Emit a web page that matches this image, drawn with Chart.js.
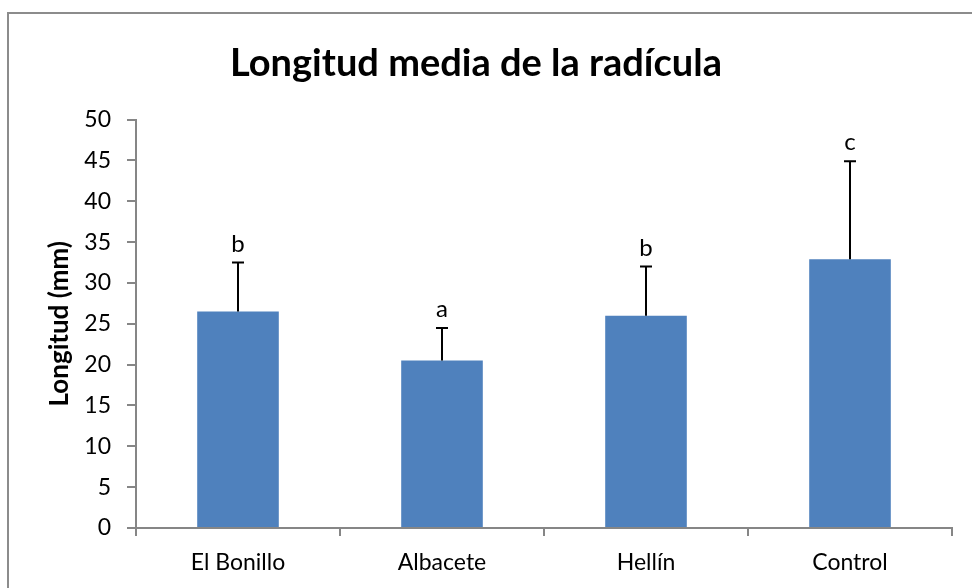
<!DOCTYPE html>
<html>
<head>
<meta charset="utf-8">
<script src="https://cdn.jsdelivr.net/npm/chart.js@4"></script>
<style>
  html, body { margin: 0; padding: 0; background: #fff; }
  #wrap { position: relative; width: 972px; height: 588px; }
</style>
</head>
<body>
<div id="wrap"><canvas id="radiculaChart"></canvas></div>
<script>
// datos
const categorias = ['El Bonillo', 'Albacete', 'Hellín', 'Control'];
const medias = [26.5, 20.5, 26.0, 32.9];
const desviaciones = [6.0, 4.0, 6.0, 12.0];
const letras = ['b', 'a', 'b', 'c'];

const FONT = 'Lato, "Open Sans", sans-serif';

// marco del gráfico
const marcoPlugin = {
    id: 'marco',
    beforeDraw(chart) {
        const ctx = chart.ctx;
        ctx.save();
        ctx.strokeStyle = '#8c8c8c';
        ctx.lineWidth = 2;
        ctx.beginPath();
        ctx.moveTo(8, chart.height);
        ctx.lineTo(8, 13);
        ctx.lineTo(chart.width, 13);
        ctx.stroke();
        ctx.restore();
    }
};

// barras de error (solo hacia arriba) y letras
const erroresPlugin = {
    id: 'errores',
    afterDatasetsDraw(chart) {
        const ctx = chart.ctx;
        const yScale = chart.scales.y;
        const meta = chart.getDatasetMeta(0);
        ctx.save();
        ctx.strokeStyle = '#000';
        ctx.lineWidth = 2;
        meta.data.forEach((bar, i) => {
            const x = bar.x;
            const yBase = yScale.getPixelForValue(medias[i]);
            const yTop = yScale.getPixelForValue(medias[i] + desviaciones[i]);
            ctx.beginPath();
            ctx.moveTo(x, yBase);
            ctx.lineTo(x, yTop);
            ctx.moveTo(x - 6, yTop);
            ctx.lineTo(x + 6, yTop);
            ctx.stroke();

            ctx.fillStyle = '#000';
            ctx.font = '24px ' + FONT;
            ctx.textAlign = 'center';
            ctx.textBaseline = 'alphabetic';
            ctx.fillText(letras[i], x, yTop - 11);
        });
        ctx.restore();
    }
};

const ctx = document.getElementById('radiculaChart').getContext('2d');
new Chart(ctx, {
    type: 'bar',
    data: {
        labels: categorias,
        datasets: [{
            data: medias,
            backgroundColor: '#4f81bd',
            borderWidth: 0,
            categoryPercentage: 1,
            barPercentage: 0.4
        }]
    },
    options: {
        responsive: true,
        maintainAspectRatio: false,
        animation: false,
        layout: { padding: { left: 0, right: 20, top: 0, bottom: 0 } },
        scales: {
            x: {
                afterFit: scale => { scale.height = 60; },
                grid: { drawOnChartArea: false, tickLength: 8, color: '#868686', lineWidth: 2, offset: true },
                border: { color: '#868686', width: 2 },
                ticks: { color: '#000', font: { family: FONT, size: 23 }, padding: 13 }
            },
            y: {
                min: 0,
                max: 50,
                afterFit: scale => { scale.width = 136; },
                grid: { drawOnChartArea: false, tickLength: 9, color: '#868686', lineWidth: 2 },
                border: { color: '#868686', width: 2 },
                ticks: { stepSize: 5, color: '#000', font: { family: FONT, size: 23 }, padding: 16 },
                title: {
                    display: true,
                    text: 'Longitud (mm)',
                    color: '#000',
                    font: { family: FONT, size: 26, weight: 'bold' },
                    padding: { top: 44, bottom: 0 }
                }
            }
        },
        plugins: {
            legend: { display: false },
            tooltip: { enabled: false },
            title: {
                display: true,
                text: 'Longitud media de la radícula',
                color: '#000',
                font: { family: FONT, size: 38, weight: 'bold' },
                padding: { top: 41, bottom: 33 }
            }
        }
    },
    plugins: [marcoPlugin, erroresPlugin]
});
</script>
</body>
</html>
